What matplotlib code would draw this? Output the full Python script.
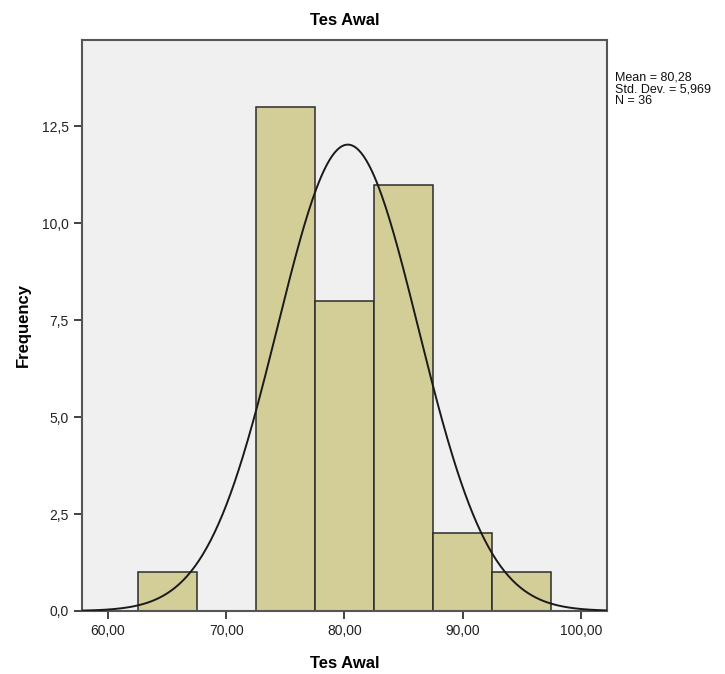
import numpy as np
import matplotlib
matplotlib.use("Agg")
import matplotlib.pyplot as plt
from matplotlib.ticker import FuncFormatter

# histogram data (bin edges, counts)
bin_edges = [62.5, 67.5, 72.5, 77.5, 82.5, 87.5, 92.5, 97.5]
counts = [1, 0, 13, 8, 11, 2, 1]
mean = 80.28
std = 5.969
n = 36

xticks = [60, 70, 80, 90, 100]
yticks = [0, 2.5, 5, 7.5, 10, 12.5]

plt.rcParams['font.family'] = ['Liberation Sans', 'DejaVu Sans']

fig = plt.figure(figsize=(7.25, 6.74), dpi=100)
ax = fig.add_axes([0.1131, 0.0935, 0.7241, 0.8472])
ax.set_facecolor('#f0f0f0')

lefts = bin_edges[:-1]
widths = np.diff(bin_edges)
ax.bar(lefts, counts, width=widths, align='edge', color='#d3ce97',
       edgecolor='#2b2b2b', linewidth=1.1, zorder=2)

# normal curve
bw = widths[0]
xs = np.linspace(57.8, 102.2, 400)
ys = n * bw / (std * np.sqrt(2 * np.pi)) * np.exp(-0.5 * ((xs - mean) / std) ** 2)
ax.plot(xs, ys, color='#1a1a1a', linewidth=1.4, zorder=3)

ax.set_xlim(57.8, 102.2)
ax.set_ylim(0, 14.73)
ax.set_xticks(xticks)
ax.set_yticks(yticks)
ax.xaxis.set_major_formatter(FuncFormatter(lambda v, p: f"{v:.2f}".replace('.', ',')))
ax.yaxis.set_major_formatter(FuncFormatter(lambda v, p: f"{v:.1f}".replace('.', ',')))
ax.tick_params(direction='out', length=6, width=1.3, colors='#333333',
               labelsize=10, labelcolor='#222222')

for s in ax.spines.values():
    s.set_color('#555555')
    s.set_linewidth(1.5)

ax.set_title('Tes Awal', fontsize=12, fontweight='bold', pad=11)
ax.set_xlabel('Tes Awal', fontsize=12, fontweight='bold', labelpad=13)
ax.set_ylabel('Frequency', fontsize=12, fontweight='bold', labelpad=8)

stats = f"Mean = {mean:.2f}\nStd. Dev. = {std:.3f}\nN = {n}".replace('.', ',')
stats = stats.replace('Std, Dev,', 'Std. Dev.')
fig.text(615 / 725, 1 - 71 / 674, stats, fontsize=9, va='top', ha='left',
         linespacing=1.0, color='#111111')

fig.savefig('out.png', dpi=100)
